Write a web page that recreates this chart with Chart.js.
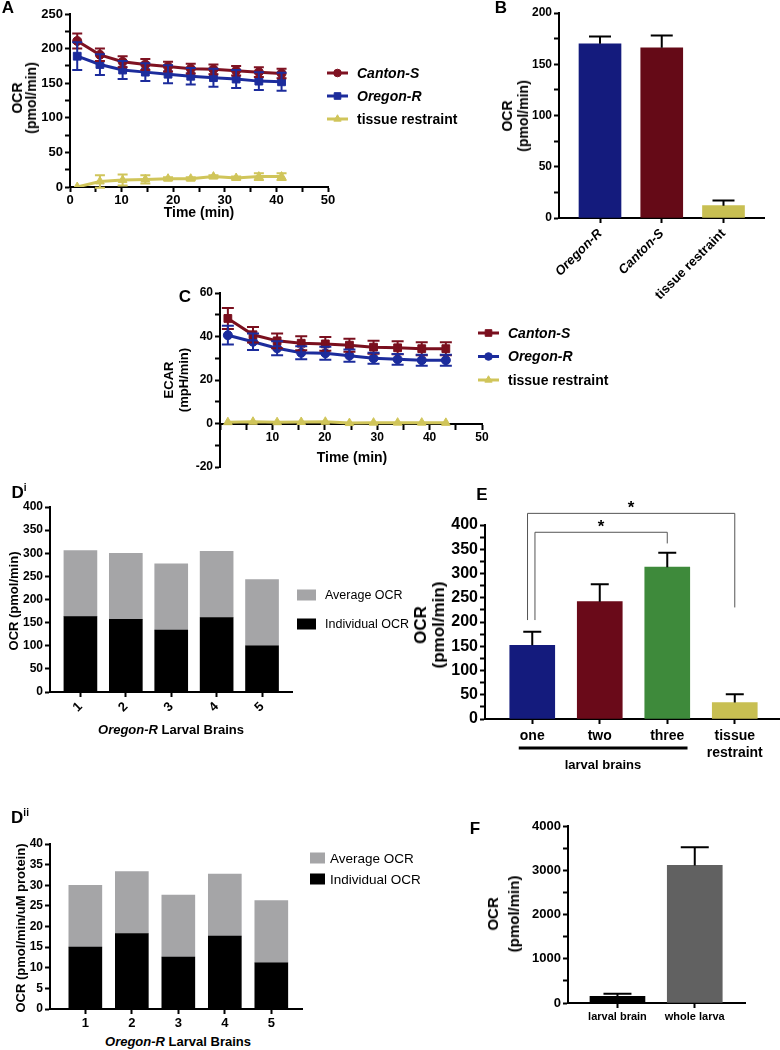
<!DOCTYPE html>
<html>
<head>
<meta charset="utf-8">
<script src="https://cdn.jsdelivr.net/npm/chart.js"></script>
<style>
  body { margin: 0; background: #fff; font-family: "Liberation Sans", Arial, Helvetica, sans-serif; }
  #page { position: relative; width: 780px; height: 1050px; overflow: hidden; }
  canvas { position: absolute; }
  .t { position: absolute; white-space: nowrap; font-weight: bold; color: #000; text-align: center;
       line-height: 1.1; transform: translate(-50%, -50%); }
  .r { transform: translate(-50%, -50%) rotate(-90deg); }
</style>
</head>
<body>
<div id="page">
  <canvas id="cA" width="480" height="215" style="left:0;top:0"></canvas>
  <canvas id="cB" width="320" height="300" style="left:460px;top:0"></canvas>
  <canvas id="cC" width="460" height="202" style="left:170px;top:275px"></canvas>
  <canvas id="cDi" width="430" height="235" style="left:0;top:490px"></canvas>
  <canvas id="cE" width="350" height="290" style="left:430px;top:490px"></canvas>
  <canvas id="cDii" width="430" height="205" style="left:0;top:825px"></canvas>
  <canvas id="cF" width="320" height="215" style="left:460px;top:815px"></canvas>

  <!-- panel letters -->
  <div class="t" style="left:8px;top:8px;font-size:17px">A</div>
  <div class="t" style="left:501px;top:8px;font-size:17px">B</div>
  <div class="t" style="left:185px;top:297px;font-size:17px">C</div>
  <div class="t" style="left:19px;top:493px;font-size:17px">D<span style="font-size:10px;position:relative;top:-7px">i</span></div>
  <div class="t" style="left:482px;top:495px;font-size:17px">E</div>
  <div class="t" style="left:20px;top:818px;font-size:17px">D<span style="font-size:10px;position:relative;top:-7px">ii</span></div>
  <div class="t" style="left:475px;top:829px;font-size:17px">F</div>

  <!-- axis titles -->
  <div class="t r" style="left:24px;top:98px;font-size:14px;line-height:14px">OCR<br>(pmol/min)</div>
  <div class="t" style="left:199px;top:213px;font-size:14px">Time (min)</div>
  <div class="t r" style="left:515px;top:116px;font-size:14px;line-height:16px">OCR<br>(pmol/min)</div>
  <div class="t r" style="left:176px;top:380px;font-size:13px;line-height:15px">ECAR<br>(mpH/min)</div>
  <div class="t" style="left:352px;top:458px;font-size:14px">Time (min)</div>
  <div class="t r" style="left:14px;top:601px;font-size:13px">OCR (pmol/min)</div>
  <div class="t" style="left:171px;top:730px;font-size:13px"><i>Oregon-R</i> Larval Brains</div>
  <div class="t r" style="left:430px;top:625px;font-size:17px;line-height:18px">OCR<br>(pmol/min)</div>
  <div class="t" style="left:603px;top:765px;font-size:13px">larval brains</div>
  <div class="t r" style="left:21px;top:928px;font-size:13px">OCR (pmol/min/uM protein)</div>
  <div class="t" style="left:178px;top:1042px;font-size:13px"><i>Oregon-R</i> Larval Brains</div>
  <div class="t r" style="left:503px;top:914px;font-size:15px;line-height:21px">OCR<br>(pmol/min)</div>
</div>

<script>
// ---- data ----
// A: OCR time course
const timeA = [1.4, 5.8, 10.2, 14.6, 19.0, 23.4, 27.8, 32.2, 36.6, 41.0];
const cantonOcr = [211, 191, 181, 177, 174, 171, 170, 168, 166, 164];
const cantonOcrErr = [11, 9, 8, 8, 7, 7, 7, 7, 7, 7];
const oregonOcr = [189, 177, 169, 166, 163, 160, 158, 156, 153, 152];
const oregonOcrErr = [20, 15, 13, 13, 13, 12, 13, 13, 13, 13];
const tissueOcr = [0, 8, 10, 11, 12, 12, 15, 13, 15, 15];
const tissueOcrErr = [0, 9, 8, 6, 2, 2, 2, 2, 5, 5];

// B: mean OCR
const strainsB = ['Oregon-R', 'Canton-S', 'tissue restraint'];
const ocrB = [170, 166, 12];
const ocrBErr = [7, 12, 5];

// C: ECAR time course
const timeC = [1.5, 6.3, 10.9, 15.5, 20.1, 24.7, 29.3, 33.9, 38.5, 43.1];
const cantonEcar = [48.3, 40.8, 38.0, 36.9, 36.6, 36.0, 35.1, 34.8, 34.4, 34.4];
const cantonEcarErr = [4.8, 3.6, 3.4, 3.2, 3.2, 3.0, 3.0, 3.0, 3.0, 3.0];
const oregonEcar = [40.6, 37.6, 34.6, 32.5, 32.3, 31.2, 30.0, 29.5, 29.1, 29.1];
const oregonEcarErr = [4.3, 3.8, 3.2, 3.0, 3.0, 2.8, 2.5, 2.5, 2.5, 2.5];
const tissueEcar = [0.6, 0.8, 0.6, 0.7, 0.8, 0.2, 0.4, 0.4, 0.4, 0.3];

// Di / Dii: individual brains, stacked
const brains = ['1', '2', '3', '4', '5'];
const indivOcr = [163, 157, 134, 161, 100];
const avgOcr = [143, 143, 143, 143, 143];
const indivOcrProt = [15.0, 18.3, 12.6, 17.7, 11.2];
const avgOcrProt = [15.0, 15.0, 15.0, 15.0, 15.1];

// E: number of brains
const groupsE = ['one', 'two', 'three', ['tissue', 'restraint']];
const ocrE = [152, 242, 313, 34];
const ocrEErr = [28, 36, 30, 17];

// F: brain vs whole larva
const samplesF = ['larval brain', 'whole larva'];
const ocrF = [150, 3110];
const ocrFErr = [60, 410];

// ---- helpers ----
const FONT = '"Liberation Sans", Arial, Helvetica, sans-serif';
Chart.defaults.font.family = FONT;
Chart.defaults.color = '#000';
Chart.defaults.animation = false;
Chart.defaults.responsive = false;
Chart.defaults.plugins.legend.display = false;
Chart.defaults.plugins.tooltip.enabled = false;

const RED = '#7f1222', BLUE = '#1c2c9c', YEL = '#d0c55a';

function axis(o) {
  return {
    type: 'linear',
    min: o.min, max: o.max,
    position: o.position,
    offset: false,
    bounds: 'data',
    z: o.z || 0,
    border: { display: true, color: '#000', width: 2 },
    grid: { display: true, offset: false, drawOnChartArea: false, drawTicks: true,
            tickLength: 5, tickWidth: 2, tickColor: '#000' },
    ticks: {
      stepSize: o.step, autoSkip: false,
      minRotation: o.rot || 0, maxRotation: o.rot || 0,
      padding: o.pad != null ? o.pad : 2,
      color: '#000',
      font: o.font || { size: o.size || 12, weight: 'bold' },
      callback: o.cb
    },
    afterBuildTicks: o.at ? (s => { s.ticks = o.at.map(v => ({ value: v })); }) : undefined,
    afterFit: s => { if (o.w != null) s.width = o.w; if (o.h != null) s.height = o.h; }
  };
}
const every = n => v => (Math.abs(v % n) < 1e-9 ? v : '');
const pts = (xs, ys) => xs.map((x, i) => ({ x: x, y: ys[i] }));
const idx = arr => arr.map((_, i) => i);

// error bars (mean +/- or mean + only)
const errorBars = {
  id: 'errorBars',
  afterDatasetsDraw(chart) {
    const ctx = chart.ctx;
    chart.data.datasets.forEach((ds, di) => {
      if (!ds.errors) return;
      const meta = chart.getDatasetMeta(di);
      const ys = chart.scales[meta.yAxisID];
      ctx.save();
      ctx.strokeStyle = ds.errorColor || ds.borderColor || '#000';
      ctx.lineWidth = 2;
      meta.data.forEach((el, i) => {
        const e = ds.errors[i];
        if (!e) return;
        const raw = ds.data[i];
        const v = typeof raw === 'object' ? raw.y : raw;
        const top = ys.getPixelForValue(v + e);
        const bot = ys.getPixelForValue(ds.errorUpOnly ? v : v - e);
        const c = ds.capHalf || 5;
        ctx.beginPath();
        ctx.moveTo(el.x, top); ctx.lineTo(el.x, bot);
        ctx.moveTo(el.x - c, top); ctx.lineTo(el.x + c, top);
        if (!ds.errorUpOnly) { ctx.moveTo(el.x - c, bot); ctx.lineTo(el.x + c, bot); }
        ctx.stroke();
      });
      ctx.restore();
    });
  }
};

// legend on the right: line + marker
const lineLegend = {
  id: 'lineLegend',
  afterDraw(chart, args, opts) {
    if (!opts || !opts.display) return;
    const ctx = chart.ctx;
    const x0 = chart.chartArea.right + opts.dx;
    chart.data.datasets.forEach((ds, i) => {
      const y = opts.top + i * opts.gap;
      ctx.save();
      ctx.strokeStyle = ds.borderColor; ctx.lineWidth = 3;
      ctx.beginPath(); ctx.moveTo(x0, y); ctx.lineTo(x0 + opts.len, y); ctx.stroke();
      ctx.fillStyle = ds.borderColor; ctx.lineWidth = 1;
      if (Chart.helpers && Chart.helpers.drawPoint) {
        Chart.helpers.drawPoint(ctx, { pointStyle: ds.pointStyle, radius: ds.pointRadius * 0.85, rotation: 0, borderWidth: 1 }, x0 + opts.len / 2, y);
      } else {
        ctx.beginPath(); ctx.arc(x0 + opts.len / 2, y, 4, 0, Math.PI * 2); ctx.fill();
      }
      ctx.fillStyle = '#000';
      ctx.font = (ds.italicLabel ? 'italic ' : '') + 'bold ' + opts.size + 'px ' + FONT;
      ctx.textAlign = 'left'; ctx.textBaseline = 'middle';
      ctx.fillText(ds.label, x0 + opts.textX, y + 1);
      ctx.restore();
    });
  }
};

// legend on the right: filled boxes
const boxLegend = {
  id: 'boxLegend',
  afterDraw(chart, args, opts) {
    if (!opts || !opts.display) return;
    const ctx = chart.ctx;
    const x0 = chart.chartArea.right + opts.dx;
    opts.order.forEach((di, k) => {
      const ds = chart.data.datasets[di];
      const y = opts.top + k * opts.gap;
      ctx.save();
      ctx.fillStyle = ds.backgroundColor;
      ctx.fillRect(x0, y - opts.bh / 2, opts.bw, opts.bh);
      ctx.fillStyle = '#000';
      ctx.font = opts.size + 'px ' + FONT;
      ctx.textAlign = 'left'; ctx.textBaseline = 'middle';
      ctx.fillText(ds.label, x0 + opts.textX, y + 1);
      ctx.restore();
    });
  }
};

// significance brackets + group underline (panel E)
const sigMarks = {
  id: 'sigMarks',
  afterDraw(chart, args, opts) {
    if (!opts || !opts.brackets) return;
    const xs = chart.scales.x, ys = chart.scales.y, ctx = chart.ctx;
    ctx.save();
    opts.brackets.forEach(b => {
      const x1 = xs.getPixelForValue(b.from), x2 = xs.getPixelForValue(b.to);
      const yl = ys.getPixelForValue(b.level);
      ctx.strokeStyle = '#555'; ctx.lineWidth = 1;
      ctx.beginPath();
      ctx.moveTo(x1, ys.getPixelForValue(b.leftEnd));
      ctx.lineTo(x1, yl); ctx.lineTo(x2, yl);
      ctx.lineTo(x2, ys.getPixelForValue(b.rightEnd));
      ctx.stroke();
      ctx.fillStyle = '#000';
      ctx.font = 'bold 17px ' + FONT;
      ctx.textAlign = 'center'; ctx.textBaseline = 'middle';
      ctx.fillText(b.label, (x1 + x2) / 2, yl - 5);
    });
    const g = opts.group;
    if (g) {
      ctx.strokeStyle = '#000'; ctx.lineWidth = 3;
      const y = chart.chartArea.bottom + g.below;
      ctx.beginPath();
      ctx.moveTo(xs.getPixelForValue(g.from), y);
      ctx.lineTo(xs.getPixelForValue(g.to), y);
      ctx.stroke();
    }
    ctx.restore();
  }
};

// ---- A ----
new Chart(document.getElementById('cA'), {
  type: 'line',
  data: {
    datasets: [
      { label: 'Canton-S', data: pts(timeA, cantonOcr), errors: cantonOcrErr, italicLabel: true,
        borderColor: RED, backgroundColor: RED, pointStyle: 'circle', pointRadius: 4.5, capHalf: 5 },
      { label: 'Oregon-R', data: pts(timeA, oregonOcr), errors: oregonOcrErr, italicLabel: true,
        borderColor: BLUE, backgroundColor: BLUE, pointStyle: 'rect', pointRadius: 5.5, capHalf: 5 },
      { label: 'tissue restraint', data: pts(timeA, tissueOcr), errors: tissueOcrErr,
        borderColor: YEL, backgroundColor: YEL, pointStyle: 'triangle', pointRadius: 5, capHalf: 5 }
    ].map(d => Object.assign({ borderWidth: 3, tension: 0, pointBorderWidth: 1, pointBackgroundColor: d.borderColor }, d))
  },
  options: {
    layout: { padding: { top: 14, right: 152, bottom: 0, left: 0 } },
    scales: {
      x: axis({ min: 0, max: 50, step: 5, cb: every(10), size: 13, h: 28, pad: 1 }),
      y: axis({ min: 0, max: 250, step: 25, cb: every(50), size: 13, w: 70 })
    },
    plugins: { lineLegend: { display: true, dx: -1, len: 21, textX: 30, top: 73, gap: 23, size: 14 } }
  },
  plugins: [errorBars, lineLegend]
});

// ---- B ----
new Chart(document.getElementById('cB'), {
  type: 'bar',
  data: {
    datasets: [{
      data: pts(idx(strainsB), ocrB), errors: ocrBErr, errorUpOnly: true, errorColor: '#000', capHalf: 11,
      backgroundColor: ['#141b7d', '#650a17', '#c8bf52'], barThickness: 42, borderWidth: 0
    }]
  },
  options: {
    layout: { padding: { top: 13, right: 16, bottom: 0, left: 0 } },
    scales: {
      x: axis({ min: -0.664, max: 2.656, at: idx(strainsB), rot: 45, h: 82, z: 1, pad: 3,
                cb: v => strainsB[v],
                font: ctx => ({ size: 13, weight: 'bold', style: (ctx.tick && ctx.tick.value < 2) ? 'italic' : 'normal' }) }),
      y: axis({ min: 0, max: 200, step: 25, cb: every(50), size: 12, w: 99 })
    }
  },
  plugins: [errorBars]
});

// ---- C ----
new Chart(document.getElementById('cC'), {
  type: 'line',
  data: {
    datasets: [
      { label: 'Canton-S', data: pts(timeC, cantonEcar), errors: cantonEcarErr, italicLabel: true,
        borderColor: '#7a0f1e', pointStyle: 'rect', pointRadius: 5.5, capHalf: 6 },
      { label: 'Oregon-R', data: pts(timeC, oregonEcar), errors: oregonEcarErr, italicLabel: true,
        borderColor: BLUE, pointStyle: 'circle', pointRadius: 4.5, capHalf: 6 },
      { label: 'tissue restraint', data: pts(timeC, tissueEcar),
        borderColor: YEL, pointStyle: 'triangle', pointRadius: 5 }
    ].map(d => Object.assign({ borderWidth: 3, tension: 0, pointBorderWidth: 1, pointBackgroundColor: d.borderColor }, d))
  },
  options: {
    layout: { padding: { top: 18, right: 148, bottom: 10, left: 0 } },
    scales: {
      x: axis({ min: 0, max: 50, step: 5, position: { y: 0 }, cb: v => (v > 0 && v % 10 === 0 ? v : ''), size: 12, h: 0, pad: 2 }),
      y: axis({ min: -20, max: 60, step: 10, cb: every(20), size: 12, w: 50 })
    },
    plugins: { lineLegend: { display: true, dx: -4, len: 21, textX: 30, top: 58, gap: 23.5, size: 14 } }
  },
  plugins: [errorBars, lineLegend]
});

// ---- Di ----
new Chart(document.getElementById('cDi'), {
  type: 'bar',
  data: {
    datasets: [
      { label: 'Individual OCR', data: pts(idx(brains), indivOcr), backgroundColor: '#000', barThickness: 33, borderWidth: 0 },
      { label: 'Average OCR', data: pts(idx(brains), avgOcr), backgroundColor: '#a5a5a7', barThickness: 33, borderWidth: 0 }
    ]
  },
  options: {
    layout: { padding: { top: 17, right: 138, bottom: 0, left: 0 } },
    scales: {
      x: Object.assign(axis({ min: -0.67, max: 4.66, at: idx(brains), rot: 45, h: 33, z: 1, size: 13, cb: v => brains[v] }), { stacked: true }),
      y: Object.assign(axis({ min: 0, max: 400, step: 50, size: 12, w: 50 }), { stacked: true })
    },
    plugins: { boxLegend: { display: true, order: [1, 0], dx: 5, bw: 19, bh: 11, textX: 28, top: 105, gap: 29, size: 12.5 } }
  },
  plugins: [boxLegend]
});

// ---- E ----
new Chart(document.getElementById('cE'), {
  type: 'bar',
  data: {
    datasets: [{
      data: pts(idx(groupsE), ocrE), errors: ocrEErr, errorUpOnly: true, errorColor: '#000', capHalf: 9,
      backgroundColor: ['#141b7d', '#6a0a19', '#3e8a3b', '#c8bf52'], barThickness: 45, borderWidth: 0
    }]
  },
  options: {
    layout: { padding: { top: 35, right: 0, bottom: 0, left: 0 } },
    scales: {
      x: axis({ min: -0.70, max: 3.67, at: idx(groupsE), h: 61, z: 1, size: 14, pad: 4, cb: v => groupsE[v] }),
      y: axis({ min: 0, max: 400, step: 25, cb: every(50), size: 16, w: 55 })
    },
    plugins: {
      sigMarks: {
        brackets: [
          { from: -0.07, to: 3, level: 424, leftEnd: 204, rightEnd: 230, label: '*' },
          { from: 0.04, to: 2, level: 385, leftEnd: 204, rightEnd: 362, label: '*' }
        ],
        group: { from: -0.2, to: 2.3, below: 29 }
      }
    }
  },
  plugins: [errorBars, sigMarks]
});

// ---- Dii ----
new Chart(document.getElementById('cDii'), {
  type: 'bar',
  data: {
    datasets: [
      { label: 'Individual OCR', data: pts(idx(brains), indivOcrProt), backgroundColor: '#000', barThickness: 33, borderWidth: 0 },
      { label: 'Average OCR', data: pts(idx(brains), avgOcrProt), backgroundColor: '#a5a5a7', barThickness: 33, borderWidth: 0 }
    ]
  },
  options: {
    layout: { padding: { top: 19, right: 128, bottom: 0, left: 0 } },
    scales: {
      x: Object.assign(axis({ min: -0.76, max: 4.66, at: idx(brains), h: 21, z: 1, size: 13, cb: v => brains[v] }), { stacked: true }),
      y: Object.assign(axis({ min: 0, max: 40, step: 5, size: 12, w: 50 }), { stacked: true })
    },
    plugins: { boxLegend: { display: true, order: [1, 0], dx: 8, bw: 15, bh: 11, textX: 20, top: 33, gap: 21, size: 13.5 } }
  },
  plugins: [boxLegend]
});

// ---- F ----
new Chart(document.getElementById('cF'), {
  type: 'bar',
  data: {
    datasets: [{
      data: pts(idx(samplesF), ocrF), errors: ocrFErr, errorUpOnly: true, errorColor: '#000', capHalf: 14,
      backgroundColor: ['#000', '#616161'], barThickness: 55, borderWidth: 0
    }]
  },
  options: {
    layout: { padding: { top: 11, right: 35, bottom: 0, left: 0 } },
    scales: {
      x: axis({ min: -0.64, max: 1.65, at: idx(samplesF), h: 27, z: 1, size: 11, cb: v => samplesF[v] }),
      y: axis({ min: 0, max: 4000, step: 500, cb: every(1000), size: 13, w: 108 })
    }
  },
  plugins: [errorBars]
});
</script>
</body>
</html>
